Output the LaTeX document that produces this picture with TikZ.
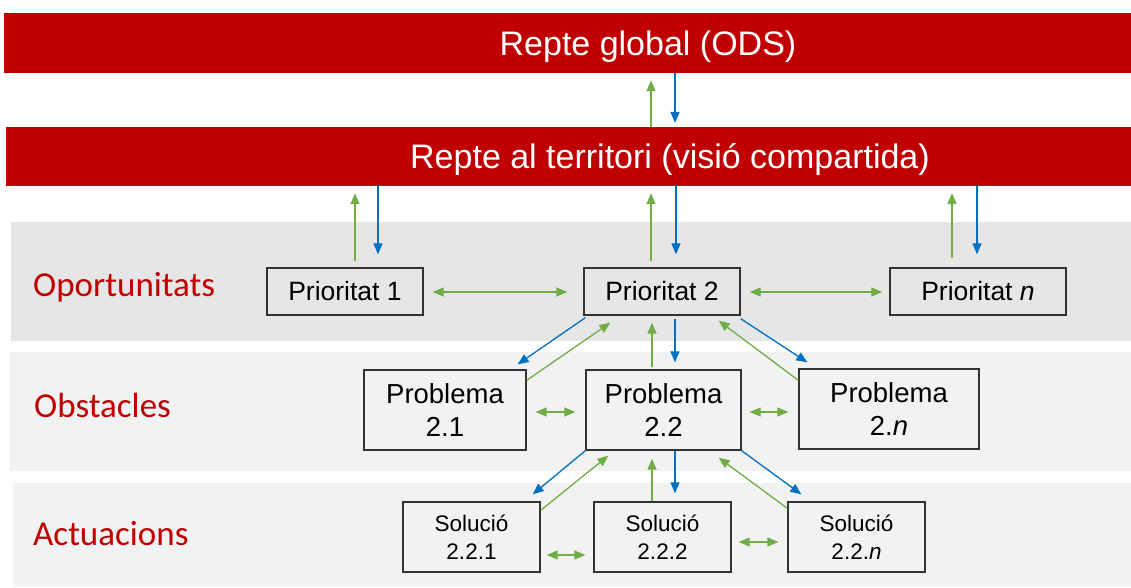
\documentclass[tikz,border=0pt]{standalone}
\usepackage{fontspec}
\setmainfont{Liberation Sans}
\newfontfamily\calibri{Carlito}
\usetikzlibrary{arrows.meta}

\definecolor{barred}{HTML}{C00000}
\definecolor{grn}{HTML}{70AD47}
\definecolor{blu}{HTML}{0070C0}
\definecolor{bandA}{HTML}{E6E6E6}
\definecolor{bandB}{HTML}{F2F2F2}

\tikzset{
  bar/.style = {fill=barred, text=white, inner sep=0pt, minimum height=60,
    text height=24pt, text depth=0pt, font=\fontsize{34}{40}\selectfont},
  box/.style = {draw=black!80, line width=1.3pt, inner sep=0pt, align=center},
  prio/.style = {box, minimum width=156, minimum height=47,
    font=\fontsize{26.5}{33}\selectfont},
  prob/.style = {box, minimum height=80, font=\fontsize{27.5}{33}\selectfont},
  sol/.style = {box, minimum width=137, minimum height=70,
    font=\fontsize{22.5}{28}\selectfont},
  level/.style = {anchor=base west, inner sep=0pt, text=barred,
    font=\calibri\fontsize{35}{40}\selectfont},
  tip/.style = {-{Triangle[length=11pt,width=9pt]}, line width=1.3pt},
  gup/.style = {tip, grn},
  bdown/.style = {tip, blu},
  gboth/.style = {{Triangle[length=11pt,width=9pt]}-{Triangle[length=11pt,width=9pt]},
    line width=1.3pt, grn}
}

\begin{document}
\begin{tikzpicture}[x=1pt, y=-1pt]
\clip (0,0) rectangle (1131,587);

% bands
\fill[bandA] (11,222) rectangle (1131,341);
\fill[bandB] (10,352) rectangle (1131,471);
\fill[bandB] (13,483) rectangle (1131,587);

\node[bar, minimum width=1288] (global) at (648,43) {Repte global (ODS)};
\node[bar, minimum width=1328, minimum height=59] (territ) at (670,156.5)
  {Repte al territori (visió compartida)};

\node[level] (lopo) at (33,296) {Oportunitats};
\node[level] (lobs) at (34,417) {Obstacles};
\node[level] (lact) at (33,545) {Actuacions};

\node[prio] (p1) at (345,291.5) {Prioritat 1};
\node[prio] (p2) at (662,291.5) {Prioritat 2};
\node[prio, minimum width=176] (pn) at (978,291.5) {Prioritat \textit{n}};

\node[prob, minimum width=162] (q1) at (445,410) {Problema\\2.1};
\node[prob, minimum width=155] (q2) at (663.5,410) {Problema\\2.2};
\node[prob, minimum width=180] (qn) at (889,409) {Problema\\2.\textit{n}};

\node[sol] (s1) at (471.5,537) {Solució\\2.2.1};
\node[sol] (s2) at (662.5,537) {Solució\\2.2.2};
\node[sol] (sn) at (856.5,537) {Solució\\2.2.\textit{n}};

% up and down between the levels
\draw[gup, shorten >=7pt] (territ.north -| 651,0) -- (global.south -| 651,0);
\draw[bdown, shorten >=4pt] (global.south -| 675,0) -- (territ.north -| 675,0);

\draw[gup, shorten <=6pt, shorten >=7pt] (p1.north -| 355,0) -- (territ.south -| 355,0);
\draw[bdown, shorten >=13pt] (territ.south -| 378,0) -- (p1.north -| 378,0);
\draw[gup, shorten <=6pt, shorten >=7pt] (p2.north -| 651,0) -- (territ.south -| 651,0);
\draw[bdown, shorten >=13pt] (territ.south -| 676,0) -- (p2.north -| 676,0);
\draw[gup, shorten <=9pt, shorten >=7pt] (pn.north -| 952,0) -- (territ.south -| 952,0);
\draw[bdown, shorten >=13pt] (territ.south -| 977,0) -- (pn.north -| 977,0);

\draw[bdown] ([shift={(2pt,-2pt)}]p2.south west) -- ([shift={(-9pt,5pt)}]q1.north east);
\draw[gup] ([yshift=-11pt]q1.north east) -- ([shift={(27pt,-7pt)}]p2.south west);
\draw[gup, shorten <=2pt, shorten >=7pt] (q2.north -| 652,0) -- (p2.south -| 652,0);
\draw[bdown, shorten <=3pt, shorten >=7pt] (p2.south -| 675,0) -- (q2.north -| 675,0);
\draw[bdown] ([yshift=-3pt]p2.south east) -- ([shift={(9pt,6pt)}]qn.north west);
\draw[gup] ([yshift=-12pt]qn.north west) -- ([shift={(-22pt,-5pt)}]p2.south east);

\draw[bdown] (q2.south west) -- ([shift={(-8pt,7pt)}]s1.north east);
\draw[gup] ([yshift=-9pt]s1.north east) -- ([shift={(23pt,-5pt)}]q2.south west);
\draw[gup, shorten >=8pt] (s2.north -| 652,0) -- (q2.south -| 652,0);
\draw[bdown, shorten >=8pt] (q2.south -| 675,0) -- (s2.north -| 675,0);
\draw[bdown] (q2.south east) -- ([shift={(14pt,7pt)}]sn.north west);
\draw[gup] ([yshift=-7pt]sn.north west) -- ([shift={(-23pt,-7pt)}]q2.south east);

% sideways
\draw[gboth, shorten <=9pt, shorten >=16pt] (p1.east |- 0,292) -- (p2.west |- 0,292);
\draw[gboth, shorten <=9pt, shorten >=7pt] (p2.east |- 0,292) -- (pn.west |- 0,292);
\draw[gboth, shorten <=9pt, shorten >=10pt] (q1.east |- 0,412) -- (q2.west |- 0,412);
\draw[gboth, shorten <=8pt, shorten >=10pt] (q2.east |- 0,412) -- (qn.west |- 0,412);
\draw[gboth, shorten <=6pt, shorten >=8pt] (s1.east |- 0,555) -- (s2.west |- 0,555);
\draw[gboth, shorten <=7pt, shorten >=9pt] (s2.east |- 0,542) -- (sn.west |- 0,542);
\end{tikzpicture}
\end{document}
